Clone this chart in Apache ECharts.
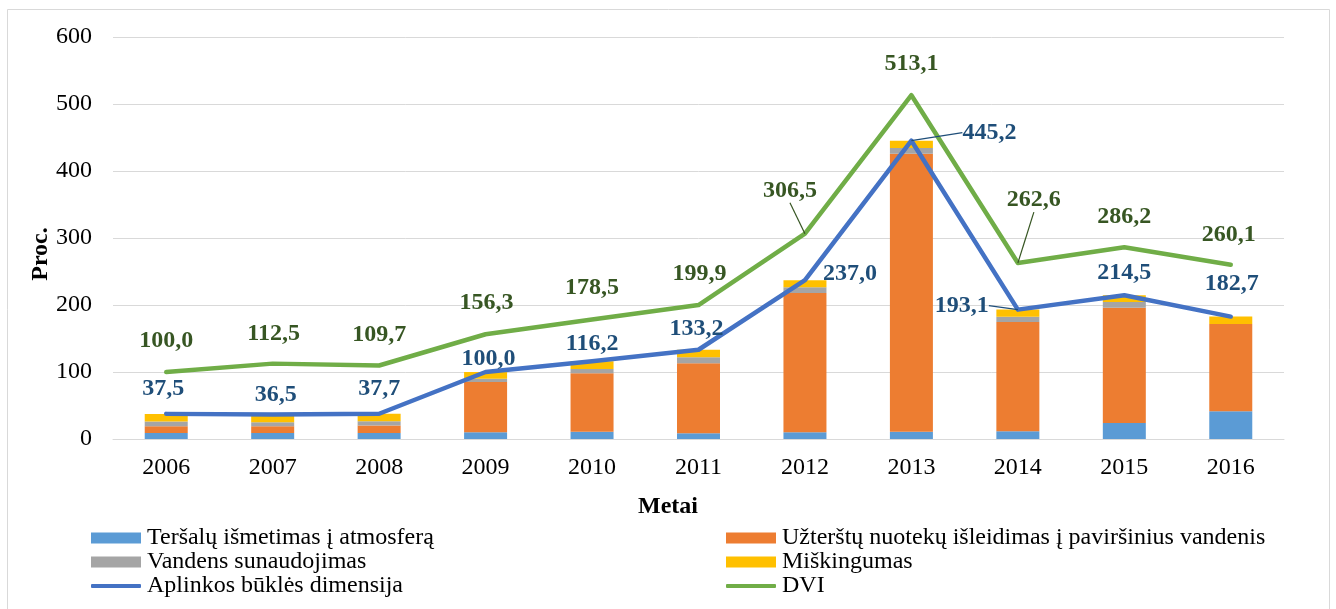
<!DOCTYPE html>
<html>
<head>
<meta charset="utf-8">
<script src="https://cdn.jsdelivr.net/npm/echarts@6/dist/echarts.min.js"></script>
<style>
html,body{margin:0;padding:0;background:#fff;}
#c{width:1336px;height:609px;}
</style>
</head>
<body>
<div id="c"></div>
<script>
const years = ['2006','2007','2008','2009','2010','2011','2012','2013','2014','2015','2016'];
const tersalai = [9, 9, 9, 10, 11, 8.5, 10, 11, 11.4, 24, 41.3];
const nuotekos = [10, 10, 11, 75, 87, 104.5, 208, 414.7, 163.2, 172, 130.4];
const vanduo = [7, 6, 6.5, 5, 6.5, 9, 8.5, 8.5, 8, 8.5, 0];
const miskingumas = [11.5, 11.5, 11.2, 10, 11.7, 11.2, 10.5, 11, 10.5, 10, 11];
const aplinkos = [37.5, 36.5, 37.7, 100.0, 116.2, 133.2, 237.0, 445.2, 193.1, 214.5, 182.7];
const dvi = [100.0, 112.5, 109.7, 156.3, 178.5, 199.9, 306.5, 513.1, 262.6, 286.2, 260.1];
const yTicks = [0, 100, 200, 300, 400, 500, 600];

const names = ['Teršalų išmetimas į atmosferą','Užterštų nuotekų išleidimas į paviršinius vandenis','Vandens sunaudojimas','Miškingumas','Aplinkos būklės dimensija','DVI'];
const colors = ['#5b9bd5','#ed7d31','#a5a5a5','#ffc000','#4472c4','#70ad47'];

// label offsets (px) relative to point
const offBlue = [[-3,-25],[3,-20],[0,-25],[3,-13],[0,-17],[-2,-21],[45,-6],[78,-8],[-56,-4],[0,-22],[1,-33]];
const offDvi = [[0,-31],[1,-30],[0,-31],[1,-31],[0,-32],[1,-31],[-15,-43],[0,-31],[16,-63],[0,-30],[-2,-30]];
const leadBlue = [7,8];
const leadDvi = [6,8];

const FONT = '"Liberation Serif","Times New Roman",serif';
const fmt = p => Number(p.value).toFixed(1).replace('.', ',');

function lineData(vals, leads){
  return vals.map((v,i)=> leads.includes(i) ? {value:v, labelLine:{show:true}} : {value:v});
}

function barSeries(idx, data){
  return {name:names[idx], type:'bar', stack:'s', data:data, barWidth:43,
    itemStyle:{color:colors[idx]}, emphasis:{disabled:true}};
}
function lineSeries(idx, data, leads, offs, lblColor){
  return {name:names[idx], type:'line', data:lineData(data, leads), z:5,
    symbol:'circle', symbolSize:0.01, showSymbol:true,
    itemStyle:{color:colors[idx]},
    lineStyle:{color:colors[idx], width:4.5, cap:'round', join:'round'},
    label:{show:true, position:'inside', formatter:fmt, color:lblColor,
      fontFamily:FONT, fontWeight:'bold', fontSize:24},
    labelLine:{show:false, lineStyle:{color:lblColor, width:1.2}},
    labelLayout: p => ({dx:offs[p.dataIndex][0], dy:offs[p.dataIndex][1]}),
    emphasis:{disabled:true}};
}

const legendRows = [538, 562, 586];
const legends = names.map((n,i)=>{
  const col = i % 2, row = Math.floor(i/2);
  const isLine = i >= 4;
  return {
    data:[{name:n, icon: isLine ? 'roundRect' : 'rect', itemStyle:{color:colors[i]}}],
    left: col === 0 ? 91 : 726,
    top: legendRows[row] - 12,
    itemWidth: 50, itemHeight: isLine ? 4 : 11, itemGap: 0, padding:0,
    textStyle:{fontFamily:FONT, fontSize:24, color:'#000', lineHeight:24, padding:[0,0,0,1]},
    selectedMode:false
  };
});

const chart = echarts.init(document.getElementById('c'), null, {renderer:'canvas'});
chart.setOption({
  animation:false,
  backgroundColor:'#fff',
  grid:{left:113, right:52, top:37, bottom:170, containLabel:false},
  xAxis:{type:'category', data:years,
    axisLine:{lineStyle:{color:'#d9d9d9', width:1}}, axisTick:{show:false},
    axisLabel:{fontFamily:FONT, fontSize:24, color:'#000', margin:17}},
  yAxis:{type:'value', min:yTicks[0], max:yTicks[yTicks.length-1], interval:100,
    axisLine:{show:false}, axisTick:{show:false},
    splitLine:{lineStyle:{color:'#d9d9d9', width:1}},
    axisLabel:{fontFamily:FONT, fontSize:24, color:'#000', margin:21}},
  legend: legends,
  graphic:[
    {type:'rect', shape:{x:7.5, y:9.5, width:1322, height:640}, style:{fill:'none', stroke:'#d9d9d9', lineWidth:1}, silent:true, z:-10},
    {type:'text', x:41, y:254, rotation:Math.PI/2, style:{text:'Proc.', fontFamily:FONT, fontWeight:'bold', fontSize:24, fill:'#000', align:'center', verticalAlign:'middle'}},
    {type:'text', x:668, y:507, style:{text:'Metai', fontFamily:FONT, fontWeight:'bold', fontSize:24, fill:'#000', align:'center', verticalAlign:'middle'}}
  ],
  series:[
    barSeries(0, tersalai),
    barSeries(1, nuotekos),
    barSeries(2, vanduo),
    barSeries(3, miskingumas),
    lineSeries(4, aplinkos, leadBlue, offBlue, '#1f4e79'),
    lineSeries(5, dvi, leadDvi, offDvi, '#375623')
  ]
});
</script>
</body>
</html>
